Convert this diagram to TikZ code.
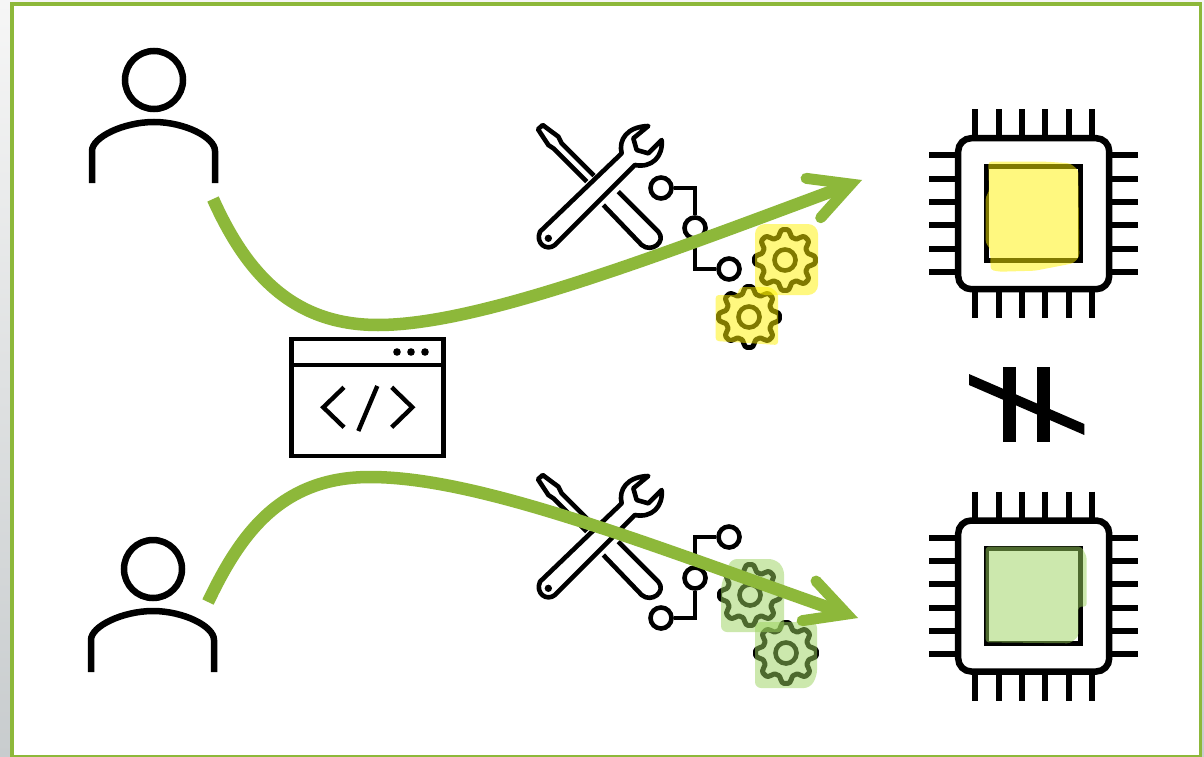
\documentclass[tikz,border=0pt]{standalone}
\usepackage{tikz}
\usetikzlibrary{arrows.meta, positioning, calc}
\definecolor{leaf}{HTML}{8DB83A}
\definecolor{marker}{HTML}{FFF200}
\definecolor{mintmark}{HTML}{9BD35D}
\definecolor{paneltop}{HTML}{F6F6F6}
\definecolor{panelbottom}{HTML}{C8CCCE}
\tikzset{
  icon/.style={draw=black, line width=4.6pt, line join=round},
  flow/.style={draw=leaf, line width=12.5pt,
               -{Straight Barb[length=40pt,width=42pt,line width=11pt,line cap=round,line join=miter]}},
  yellowmark/.style={fill=marker, fill opacity=0.5, rounded corners=6pt},
  greenmark/.style={fill=mintmark, fill opacity=0.5, rounded corners=6pt},
  joint/.style={circle, draw=black, line width=4.6pt, fill=white, inner sep=0pt, minimum size=21pt},
  trace/.style={draw=black, line width=4.6pt, line join=miter},
  neqbar/.style={fill=black},
  % ---- icons ----
  pics/personicon/.style={code={
    \node[circle, draw=black, line width=6.5pt, inner sep=0pt, minimum size=58pt] (-head) at (62,-33) {};
    \draw[draw=black, line width=6.5pt] (0,70) -- (0,38)
       .. controls (0,24) and (32,9) .. (62,9) .. controls (92,9) and (123,24) .. (123,38) -- (123,70);
  }},
  pics/toolicon/.style={code={
    \begin{scope}[scale=0.3333]
      \draw[icon] (305,130) .. controls (295,90) and (320,50) .. (385,48) -- (340,85) -- (350,120)
         -- (385,130) -- (425,90) .. controls (430,140) and (395,175) .. (345,165) -- (105,405)
         .. controls (80,425) and (45,400) .. (60,365) -- cycle;
      \fill (85,385) circle (11);
      \draw[icon] (222,197) -- (125,100) -- (115,80) -- (68,45) -- (54,58) -- (85,105) -- (100,115) -- (200,215);
      \draw[icon] (295,245) -- (415,365) .. controls (440,395) and (395,430) .. (365,405) -- (250,285);
    \end{scope}
  }},
  pics/gearicon/.style={code={
    \draw[icon, line width=5pt] plot[domain=0:356.25, samples=96, smooth cycle] (\x:{27+4*(cos(8*\x)-0.15*cos(24*\x))});
    \node[circle, draw=black, line width=4.6pt, inner sep=0pt, minimum size=21pt] (-hub) at (0,0) {};
  }},
  pics/chipicon/.style={code={
    \foreach \offs in {-58.3,-35,-11.7,11.7,35,58.3} {
      \draw[line width=6pt] (\offs,-104.5) -- (\offs,-75);
      \draw[line width=6pt] (\offs,75) -- (\offs,104.5);
      \draw[line width=6pt] (-104.5,\offs) -- (-75,\offs);
      \draw[line width=6pt] (75,\offs) -- (104.5,\offs);
    }
    \node[draw=black, line width=6.5pt, rounded corners=13pt, inner sep=0pt, minimum size=151pt] (-body) at (0,0) {};
    \node[draw=black, line width=5pt, inner sep=0pt, minimum size=94.5pt] (-core) at (0,0) {};
  }},
}

\begin{document}
\begin{tikzpicture}[x=1pt, y=-1pt]
\useasboundingbox (0,0) rectangle (1204,757);

% ---- panel ----
\shade[top color=paneltop, bottom color=panelbottom] (0,0) rectangle (1204,757);
\draw[draw=leaf, line width=3.5pt, fill=white] (12,4) rectangle (1200.5,756.8);

% ---- users ----
\pic (userA) at (92,113) {personicon};
\pic (userB) at (91,602) {personicon};
\coordinate (userAfoot) at (213,199);
\coordinate (userBfoot) at (208,602);

% ---- window with code ----
\node[draw=black, line width=4.6pt, inner sep=0pt, minimum width=152pt, minimum height=117pt] (window) at (367.5,397.5) {};
\draw[line width=4.6pt] (window.west |- 0,365) -- (window.east |- 0,365);
\foreach \dotx in {397,411,425} \fill (\dotx,352) circle (3.8);
\draw[line width=4.4pt] (344,387.3) -- (323.3,407.3) -- (344,427.3);
\draw[line width=4.4pt] (377.3,386) -- (358.3,431);
\draw[line width=4.4pt] (391.7,387.3) -- (412.3,407.3) -- (391.7,427.3);

% ---- upper tool chain ----
\pic (toolA) at (520,110) {toolicon};
\node[joint] (jointA) at (661,188) {};
\node[joint] (jointB) at (695,228) {};
\node[joint] (jointC) at (729,269) {};
\draw[trace] (jointA) -| (jointB);
\draw[trace] (jointB) |- (jointC);
\pic (gearA) at (785,260) {gearicon};
\pic (gearB) at (749,317) {gearicon};
\path[yellowmark, rounded corners=10pt] (755,224) -- (818,224) -- (818,295) -- (755,295) -- cycle;
\path[yellowmark, rounded corners=3pt] (715.7,295) -- (737,295) -- (740,287) -- (770,287) -- (778,293) -- (778,345) -- (715.7,341) -- cycle;

% ---- lower tool chain ----
\pic (toolB) at (520,460) {toolicon};
\node[joint] (jointD) at (729,537) {};
\node[joint] (jointE) at (695,578) {};
\node[joint] (jointF) at (661,618) {};
\draw[trace] (jointD) -| (jointE);
\draw[trace] (jointE) |- (jointF);
\pic (gearC) at (750,595) {gearicon};
\pic (gearD) at (786,653) {gearicon};
\path[greenmark] (731,559) -- (775,559) -- (784,568) -- (784,632) -- (721,632) -- (721,585) -- cycle;
\path[greenmark] (755,622) -- (817,622) -- (817,676) -- (810,688) -- (755,688) -- cycle;

% ---- chips ----
\pic (chipA) at (1033.7,213.7) {chipicon};
\pic (chipB) at (1033.7,596) {chipicon};
\path[yellowmark, rounded corners=3pt] (988.3,161.7) -- (1046.7,161.7) -- (1070,163.3) -- (1078.3,170)
   -- (1079.3,256.7) -- (1073.3,263.3) -- (1035,270.7) -- (1000,271.7) -- (990.7,270) -- (990,248.3)
   -- (985.7,243.3) -- (985.7,196.7) -- (989,191.7) -- cycle;
\path[greenmark, rounded corners=3pt] (985.7,546.7) -- (1081.7,546.7) -- (1086.7,556.7) -- (1086.7,606.7)
   -- (1078.3,606.7) -- (1078.3,636.7) -- (1070,643.3) -- (985.7,642.3) -- cycle;
\coordinate (chipAin) at (862,180);
\coordinate (chipBin) at (858,618);

% ---- not equal ----
\fill[neqbar] (969,374) -- (1084.3,424) -- (1084.3,435) -- (969,385) -- cycle;
\fill[neqbar] (1002.7,366.7) rectangle (1016,442.3);
\fill[neqbar] (1036.7,366.7) rectangle (1050,442.3);

% ---- flows ----
\draw[flow] (userAfoot) .. controls (245,270) and (290,325) .. (378,325)
   .. controls (480,325) and (660,255) .. (chipAin);
\draw[flow] (userBfoot) .. controls (240,535) and (280,477) .. (370,477)
   .. controls (480,477) and (650,545) .. (chipBin);

\end{tikzpicture}
\end{document}
